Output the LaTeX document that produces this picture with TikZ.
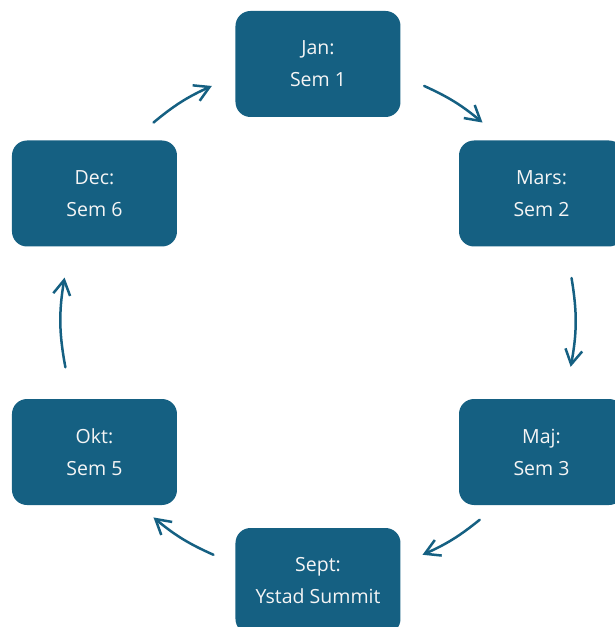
\documentclass[tikz,border=0pt]{standalone}
\usepackage{fontspec}
\setmainfont{Open Sans}
\definecolor{semblue}{HTML}{156082}
\usetikzlibrary{arrows.meta}
\tikzset{
    sembox/.style={rectangle, rounded corners=15pt, fill=semblue, text=white!96!black,
                   minimum width=165pt, minimum height=106pt, align=center,
                   font=\fontsize{19.5}{32}\selectfont},
    arrow/.style={-{Straight Barb[angle=60:17pt]}, line width=2.5pt, semblue, line cap=round},
}

\begin{document}
\begin{tikzpicture}[x=1pt, y=1pt]
    \useasboundingbox (-318,320) rectangle (296,-307);
    \node[sembox] (jan) at (0,256) {Jan:\\Sem 1};
    \node[sembox] (mars) at (223.5,126.5) {Mars:\\Sem 2};
    \node[sembox] (maj) at (223.5,-132) {Maj:\\Sem 3};
    \node[sembox] (sept) at (0,-261) {Sept:\\Ystad Summit};
    \node[sembox] (okt) at (-223.5,-132) {Okt:\\Sem 5};
    \node[sembox] (dec) at (-223.5,126.5) {Dec:\\Sem 6};

    % arrow ends on the ring
    \coordinate (janS) at (65.6:257);   \coordinate (marsE) at (50.2:257);
    \coordinate (marsS) at (9.4:257);   \coordinate (majE) at (-10.5:257);
    \coordinate (majS) at (-51:257);    \coordinate (septE) at (-66:257);
    \coordinate (septS) at (-114:257);  \coordinate (oktE) at (-129.8:257);
    \coordinate (oktS) at (-169.4:257); \coordinate (decE) at (-189.5:257);
    \coordinate (decS) at (-230.2:257); \coordinate (janE) at (-245.6:257);

    \draw[arrow] (janS) to[bend left=7.7] (marsE);
    \draw[arrow] (marsS) to[bend left=10] (majE);
    \draw[arrow] (majS) to[bend left=7.5] (septE);
    \draw[arrow] (septS) to[bend left=7.9] (oktE);
    \draw[arrow] (oktS) to[bend left=10] (decE);
    \draw[arrow] (decS) to[bend left=7.7] (janE);
\end{tikzpicture}
\end{document}
